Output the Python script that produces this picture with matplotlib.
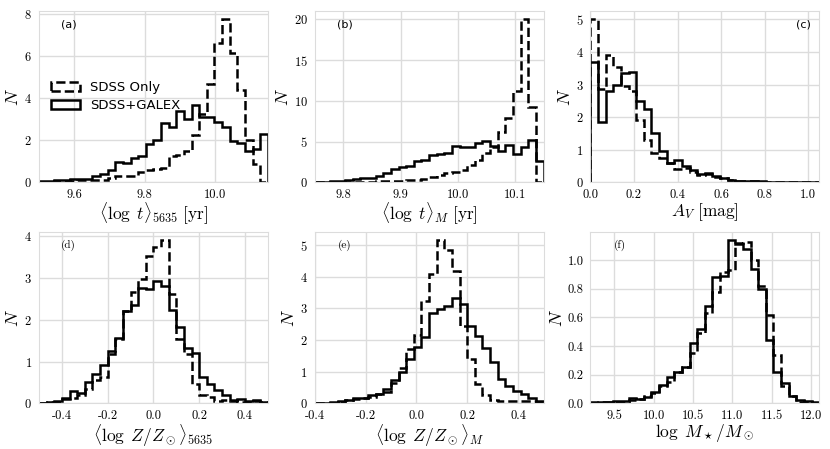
import matplotlib
matplotlib.use("Agg")
import matplotlib.pyplot as plt
from matplotlib.ticker import MultipleLocator, FormatStrFormatter
import numpy as np

plt.rcParams['mathtext.fontset'] = 'cm'
plt.rcParams['font.family'] = 'serif'
plt.rcParams['font.serif'] = ['cmr10']
plt.rcParams['axes.formatter.use_mathtext'] = True
plt.rcParams['axes.unicode_minus'] = True

# bin ranges (30 bins each) and histogram heights
a_range = (9.5, 10.15)
a_sdss = [0.02, 0.03, 0.05, 0.06, 0.08, 0.1, 0.1, 0.12, 0.12, 0.22, 0.28, 0.28, 0.28, 0.5, 0.6,
          0.65, 0.7, 1.25, 1.3, 1.5, 2.25, 3.26, 4.68, 6.63, 7.74, 6.12, 4.39, 2.0, 0.86, 0.03]
a_galex = [0.05, 0.06, 0.1, 0.12, 0.15, 0.15, 0.18, 0.3, 0.4, 0.6, 0.95, 0.9, 1.15, 1.25, 1.8,
           2.0, 2.8, 2.62, 3.39, 3.03, 3.66, 3.1, 3.1, 2.87, 2.64, 1.95, 1.85, 1.5, 1.6, 2.3]

b_range = (9.75, 10.15)
b_sdss = [0.02, 0.03, 0.04, 0.05, 0.06, 0.08, 0.1, 0.1, 0.12, 0.12, 0.15, 0.2, 0.25, 0.3, 0.45,
          0.7, 0.95, 1.1, 1.27, 1.46, 2.15, 2.8, 3.6, 4.4, 6.2, 7.85, 11.2, 20.0, 9.2, 0.05]
b_galex = [0.05, 0.08, 0.12, 0.2, 0.25, 0.4, 0.5, 0.6, 0.75, 1.1, 1.6, 1.9, 2.0, 2.6, 2.8,
           3.4, 3.5, 3.6, 4.5, 4.4, 4.4, 4.8, 5.1, 4.5, 3.8, 4.6, 3.5, 4.4, 5.2, 2.6]

c_range = (0.0, 1.05)
c_sdss = [5.0, 2.85, 3.9, 3.55, 2.95, 2.8, 1.9, 1.3, 0.9, 0.75, 0.6, 0.4, 0.45, 0.32, 0.22,
          0.25, 0.18, 0.12, 0.06, 0.05, 0.03, 0.03, 0.02, 0.02, 0.01, 0.01, 0.01, 0.01, 0.01, 0.01]
c_galex = [3.7, 1.85, 2.8, 3.0, 3.35, 3.4, 2.5, 2.25, 1.5, 0.95, 0.6, 0.7, 0.5, 0.38, 0.25,
           0.28, 0.2, 0.15, 0.08, 0.05, 0.04, 0.05, 0.04, 0.02, 0.02, 0.01, 0.01, 0.01, 0.01, 0.01]

d_range = (-0.5, 0.5)
d_sdss = [0.01, 0.02, 0.03, 0.1, 0.12, 0.2, 0.35, 0.55, 0.64, 1.18, 1.54, 2.2, 2.66, 2.98, 3.54,
          3.74, 3.91, 2.62, 1.54, 1.17, 0.45, 0.2, 0.15, 0.05, 0.08, 0.05, 0.03, 0.03, 0.05, 0.02]
d_galex = [0.01, 0.03, 0.06, 0.13, 0.3, 0.25, 0.5, 0.7, 0.92, 1.26, 1.56, 2.22, 2.36, 2.76, 2.74,
           2.92, 2.82, 2.23, 1.82, 1.32, 1.2, 0.62, 0.46, 0.32, 0.2, 0.08, 0.1, 0.05, 0.08, 0.04]

e_range = (-0.4, 0.5)
e_sdss = [0.01, 0.02, 0.02, 0.05, 0.1, 0.12, 0.15, 0.2, 0.28, 0.35, 0.65, 1.1, 1.7, 2.16, 3.25,
          4.1, 5.16, 4.86, 4.17, 2.45, 1.41, 0.61, 0.27, 0.11, 0.08, 0.08, 0.08, 0.07, 0.06, 0.05]
e_galex = [0.01, 0.02, 0.03, 0.08, 0.1, 0.15, 0.18, 0.25, 0.3, 0.45, 0.72, 1.0, 1.41, 1.78, 2.09,
           2.87, 2.97, 3.08, 3.32, 3.13, 2.45, 2.14, 1.75, 1.31, 0.77, 0.53, 0.4, 0.29, 0.17, 0.08]

f_range = (9.2, 12.1)
f_sdss = [0.003, 0.005, 0.005, 0.005, 0.01, 0.025, 0.03, 0.05, 0.07, 0.12, 0.15, 0.22, 0.25, 0.35, 0.49,
          0.63, 0.78, 0.92, 0.93, 1.12, 1.13, 1.0, 0.82, 0.62, 0.34, 0.12, 0.05, 0.01, 0.01, 0.003]
f_galex = [0.005, 0.008, 0.005, 0.012, 0.015, 0.035, 0.03, 0.045, 0.075, 0.125, 0.18, 0.22, 0.25, 0.42, 0.52,
           0.68, 0.88, 0.89, 1.14, 1.11, 1.08, 0.94, 0.8, 0.44, 0.22, 0.14, 0.05, 0.02, 0.015, 0.005]

# tick steps (x, y) per panel
x_steps = [0.2, 0.1, 0.2, 0.2, 0.2, 0.5]
y_steps = [2, 5, 1, 1, 1, 0.2]

panels = [
    ('(a)', a_range, a_sdss, a_galex, r'$\langle\log\ t\rangle_{\mathsf{5635}}\ [\mathrm{yr}]$'),
    ('(b)', b_range, b_sdss, b_galex, r'$\langle\log\ t\rangle_M\ [\mathrm{yr}]$'),
    ('(c)', c_range, c_sdss, c_galex, r'$A_V\ [\mathrm{mag}]$'),
    ('(d)', d_range, d_sdss, d_galex, r'$\langle\log\ Z/Z_\odot\rangle_{\mathsf{5635}}$'),
    ('(e)', e_range, e_sdss, e_galex, r'$\langle\log\ Z/Z_\odot\rangle_M$'),
    ('(f)', f_range, f_sdss, f_galex, r'$\log\ M_\star/M_\odot$'),
]

fig, axes = plt.subplots(2, 3, figsize=(8.3, 4.49), dpi=100)
fig.subplots_adjust(left=0.047, right=0.987, top=0.975, bottom=0.102, wspace=0.205, hspace=0.29)

for i, (ax, (tag, rng, sdss, galex, xlabel)) in enumerate(zip(axes.flat, panels)):
    edges = np.linspace(rng[0], rng[1], len(sdss) + 1)
    centers = 0.5 * (edges[:-1] + edges[1:])
    ax.hist(centers, bins=edges, weights=sdss, histtype='step', color='k', lw=1.8, ls='--',
            label='SDSS Only')
    ax.hist(centers, bins=edges, weights=galex, histtype='step', color='k', lw=1.8,
            label='SDSS+GALEX')
    ax.set_xlim(rng)
    ax.set_ylim(bottom=0)
    ax.xaxis.set_major_locator(MultipleLocator(x_steps[i]))
    ax.yaxis.set_major_locator(MultipleLocator(y_steps[i]))
    ax.xaxis.set_major_formatter(FormatStrFormatter('%.1f'))
    if y_steps[i] < 1:
        ax.yaxis.set_major_formatter(FormatStrFormatter('%.1f'))
    ax.set_xlabel(xlabel, fontsize=12.5, labelpad=0)
    ax.set_ylabel(r'$N$', fontsize=13, labelpad=2)
    ax.set_facecolor('white')
    ax.grid(True, color='#dcdcdc', lw=1)
    ax.set_axisbelow(True)
    for sp in ax.spines.values():
        sp.set_color('#dcdcdc')
    ax.tick_params(length=0, labelsize=9, pad=5)
    if tag == '(c)':
        ax.text(0.93, 0.92, tag, transform=ax.transAxes, fontsize=8, ha='center', va='center',
                family='DejaVu Sans')
    else:
        ax.text(0.13, 0.92, tag, transform=ax.transAxes, fontsize=8, ha='center', va='center',
                family='DejaVu Sans' if i < 3 else 'serif')

axes[0, 0].legend(loc='center left', bbox_to_anchor=(0.0, 0.5), frameon=False,
                  prop={'family': 'DejaVu Sans', 'size': 9.5}, handlelength=2.2,
                  handletextpad=0.8, labelspacing=0.4)

fig.savefig('out.png', dpi=100)
